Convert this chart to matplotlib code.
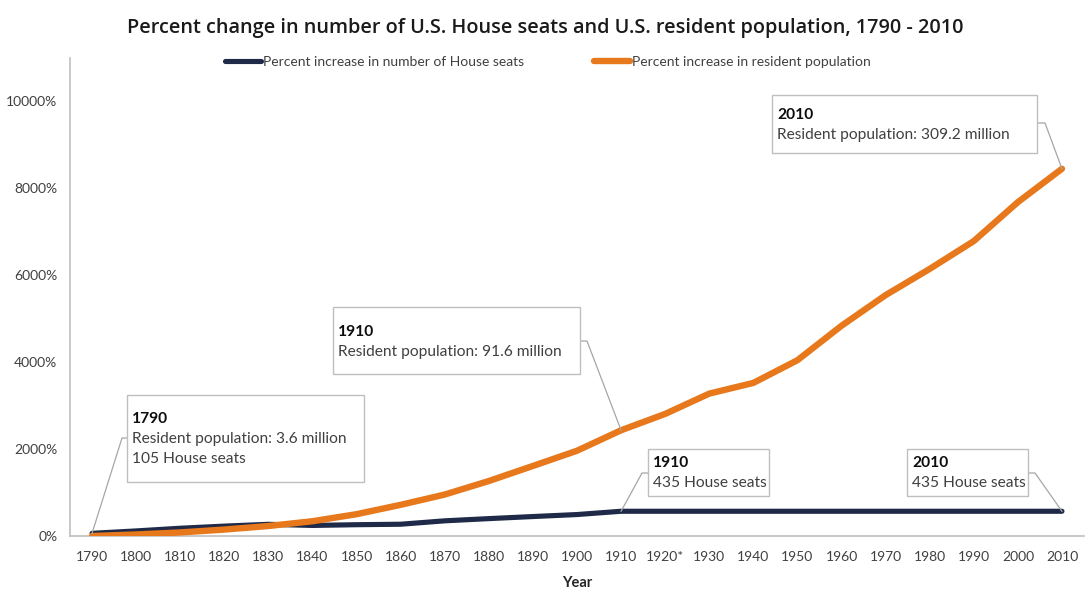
import matplotlib
matplotlib.use("Agg")
import matplotlib.pyplot as plt
from matplotlib.patches import Rectangle
from matplotlib.lines import Line2D
from matplotlib.ticker import FuncFormatter

# census years (1920 had no reapportionment)
years = ["1790", "1800", "1810", "1820", "1830", "1840", "1850", "1860", "1870",
         "1880", "1890", "1900", "1910", "1920*", "1930", "1940", "1950", "1960",
         "1970", "1980", "1990", "2000", "2010"]

# percent increase in House seats (base: 65 seats of the first Congress)
seats_pct = [61.5, 116.9, 178.5, 227.7, 269.2, 243.1, 260.0, 270.8, 349.2,
             400.0, 447.7, 493.8, 569.2, 569.2, 569.2, 569.2, 569.2, 569.2,
             569.2, 569.2, 569.2, 569.2, 569.2]

# percent increase in resident (apportionment) population since 1790
pop_pct = [0.0, 35.2, 82.1, 148.1, 230.0, 340.0, 502.0, 717.2, 954.1,
           1265.4, 1612.1, 1962.1, 2433.3, 2809.6, 3276.5, 3523.0, 4045.4, 4838.1,
           5543.2, 6146.5, 6786.9, 7682.9, 8450.6]

NAVY = "#1f2a48"
ORANGE = "#e7781c"
GRID = "#bfbfbf"
LEADER = "#a6a6a6"
TXT = "#404040"

plt.rcParams["font.family"] = ["Lato", "DejaVu Sans"]

W, H = 1090, 602
fig = plt.figure(figsize=(W / 100, H / 100), dpi=100)


def fx(x):
    return x / W


def fy(y):
    return 1 - y / H


ax = fig.add_axes([fx(70), fy(536), fx(1084) - fx(70), fy(58) - fy(536)])

xs = list(range(len(years)))
ax.plot(xs, seats_pct, color=NAVY, lw=3.7, solid_capstyle="round",
        solid_joinstyle="round", label="Percent increase in number of House seats", zorder=3)
ax.plot(xs, pop_pct, color=ORANGE, lw=4.6, solid_capstyle="round",
        solid_joinstyle="round", label="Percent increase in resident population", zorder=4)

ax.set_xlim(-0.5, len(years) - 0.5)
ax.set_ylim(0, 11000)
ax.set_yticks(range(0, 10001, 2000))
ax.yaxis.set_major_formatter(FuncFormatter(lambda v, p: f"{int(v)}%"))
ax.set_xticks(xs)
ax.set_xticklabels(years)
ax.tick_params(length=0, labelsize=10, labelcolor=TXT)
ax.tick_params(axis="x", pad=11)
ax.tick_params(axis="y", pad=9)
for s in ["top", "right"]:
    ax.spines[s].set_visible(False)
for s in ["left", "bottom"]:
    ax.spines[s].set_color(GRID)
    ax.spines[s].set_linewidth(1.2)

ax.set_xlabel("Year", fontsize=10.5, fontweight="bold", color="#262626", labelpad=9)

fig.text(0.5, fy(28), "Percent change in number of U.S. House seats and U.S. resident population, 1790 - 2010",
         ha="center", va="center", fontsize=14.3, fontweight=600, color="#1a1a1a",
         family=["Open Sans", "DejaVu Sans"])

ax.legend(loc="center", bbox_to_anchor=(fx(548), fy(62)), bbox_transform=fig.transFigure,
          ncol=2, frameon=False, fontsize=10, handlelength=2.6, handletextpad=0.15,
          columnspacing=5.0, labelcolor=TXT)

# callout boxes: (left, top, right, bottom), text lines, text start, leader path
callouts = [
    ((127, 395, 364, 482), "1790", ["Resident population: 3.6 million", "105 House seats"],
     (132, 419), [(127, 438), (122, 438)], (0, seats_pct[0])),
    ((333, 307, 580, 374), "1910", ["Resident population: 91.6 million"],
     (338, 332), [(580, 341), (587, 341)], (12, pop_pct[12])),
    ((648, 449, 769, 496), "1910", ["435 House seats"],
     (653, 463), [(648, 473), (642, 473)], (12, seats_pct[12])),
    ((907, 449, 1028, 496), "2010", ["435 House seats"],
     (912, 463), [(1028, 473), (1035, 473)], (22, seats_pct[22])),
    ((772, 95, 1037, 153), "2010", ["Resident population: 309.2 million"],
     (777, 115), [(1037, 123), (1045, 123)], (22, pop_pct[22])),
]

fig.canvas.draw()
for (l, t, r, b), yr, lines, (tx, ty), path, pt in callouts:
    fig.patches.append(Rectangle((fx(l), fy(b)), fx(r) - fx(l), fy(t) - fy(b),
                                 transform=fig.transFigure, facecolor="white",
                                 edgecolor=GRID, lw=1.0, zorder=5))
    fig.text(fx(tx), fy(ty), yr, ha="left", va="center", fontsize=11.2,
             fontweight="bold", color="#0d0d0d", zorder=6)
    for i, ln in enumerate(lines):
        fig.text(fx(tx), fy(ty + 20 * (i + 1)), ln, ha="left", va="center",
                 fontsize=11.2, color=TXT, zorder=6)
    px, py = ax.transData.transform(pt)
    xs_l = [fx(path[0][0]), fx(path[1][0]), px / W]
    ys_l = [fy(path[0][1]), fy(path[1][1]), py / H]
    fig.lines.append(Line2D(xs_l, ys_l, transform=fig.transFigure, color=LEADER,
                            lw=0.9, zorder=4))

fig.savefig("out.png", dpi=100)
